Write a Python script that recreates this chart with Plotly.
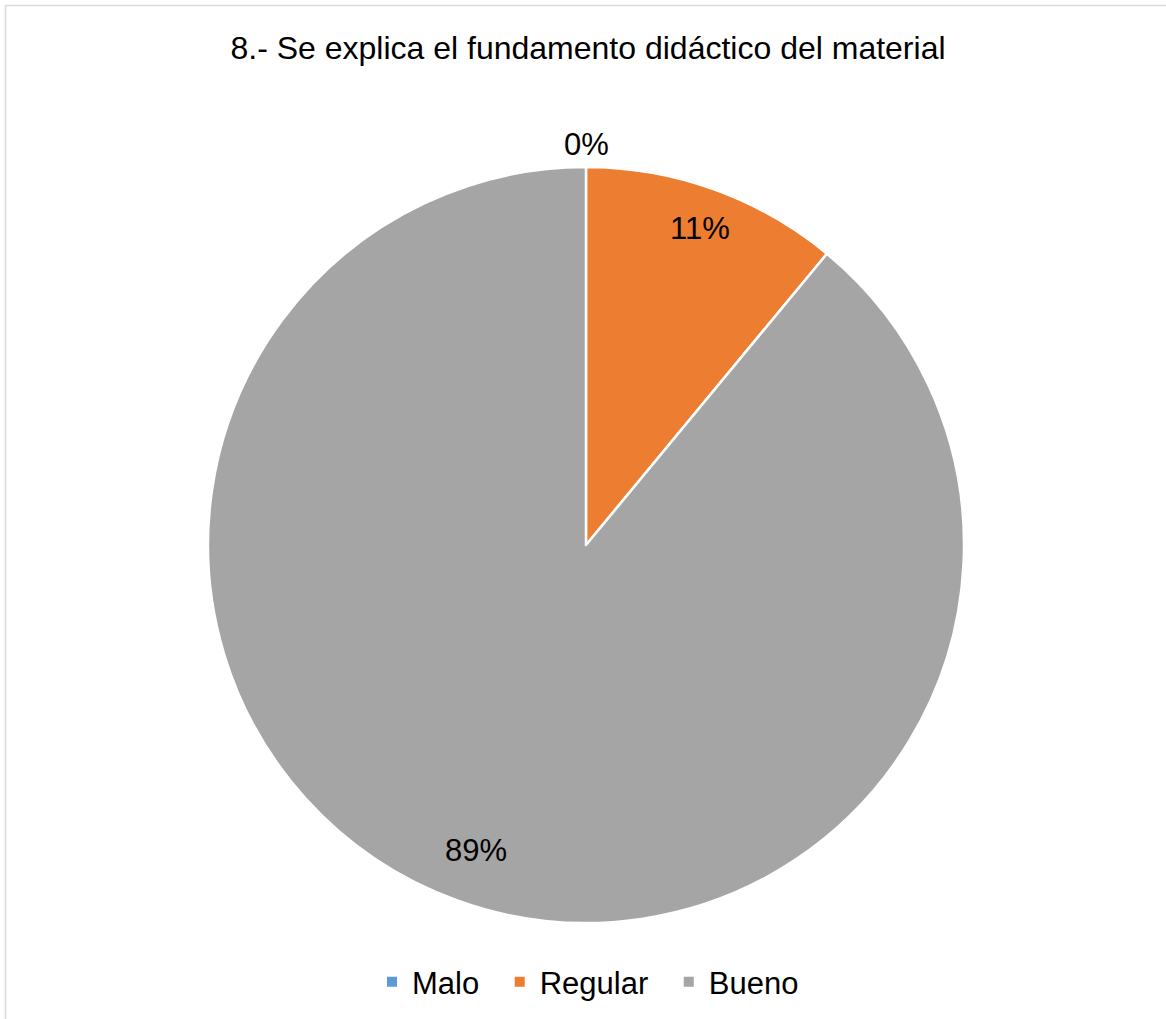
import math
import plotly.graph_objects as go

# Data
categories = ['Malo', 'Regular', 'Bueno']
values = [0, 11, 89]
colors = ['#5B9BD5', '#ED7D31', '#A5A5A5']
label_radius = [1.06, 0.89, 0.86]   # label distance from centre, as fraction of radius

W, H = 1166, 1019
CX, CY, R = 586, 545, 378
FONT = 'Liberation Sans, Arial, sans-serif'

def px_x(x):
    return x / W

def px_y(y):
    return 1 - y / H

# a little extra room between legend entries, like the original
legend_names = [c + '\u2002' for c in categories[:-1]] + categories[-1:]

fig = go.Figure()
fig.add_trace(go.Pie(
    labels=legend_names,
    values=values,
    sort=False,
    direction='clockwise',
    rotation=0,
    marker=dict(colors=colors, line=dict(color='white', width=2.5)),
    textinfo='none',
    domain=dict(x=[px_x(CX - R), px_x(CX + R)], y=[px_y(CY + R), px_y(CY - R)]),
    hoverinfo='label+percent',
))

# data labels placed at the middle angle of each slice
total = sum(values)
start = 0.0
annotations = []
for v, f in zip(values, label_radius):
    mid = start + v / total * 180.0
    start += v / total * 360.0
    a = math.radians(mid)
    x = CX + f * R * math.sin(a)
    y = CY - f * R * math.cos(a)
    annotations.append(dict(
        x=px_x(x), y=px_y(y), xref='paper', yref='paper',
        text=f'{round(v / total * 100)}%', showarrow=False,
        xanchor='center', yanchor='middle',
        font=dict(family=FONT, size=31, color='black'),
    ))

fig.update_layout(
    width=W, height=H,
    margin=dict(l=0, r=0, t=0, b=0),
    paper_bgcolor='white',
    plot_bgcolor='white',
    font=dict(family=FONT, color='black'),
    title=dict(
        text='8.- Se explica el fundamento didáctico del material',
        x=px_x(588), xanchor='center',
        y=px_y(48), yanchor='middle',
        font=dict(size=32, color='black'),
    ),
    legend=dict(
        orientation='h',
        x=px_x(588), xanchor='center',
        y=px_y(982), yanchor='middle',
        font=dict(size=31, color='black'),
        itemsizing='constant',
    ),
    annotations=annotations,
    shapes=[dict(
        type='rect', xref='paper', yref='paper',
        x0=px_x(5.5), x1=1.02, y0=-0.02, y1=px_y(5.5),
        line=dict(color='#D9D9D9', width=1.5),
        fillcolor='rgba(0,0,0,0)',
        layer='below',
    )],
)

fig.write_html('out.html', config={'displayModeBar': False},
               post_script="document.body.style.margin='0';")
